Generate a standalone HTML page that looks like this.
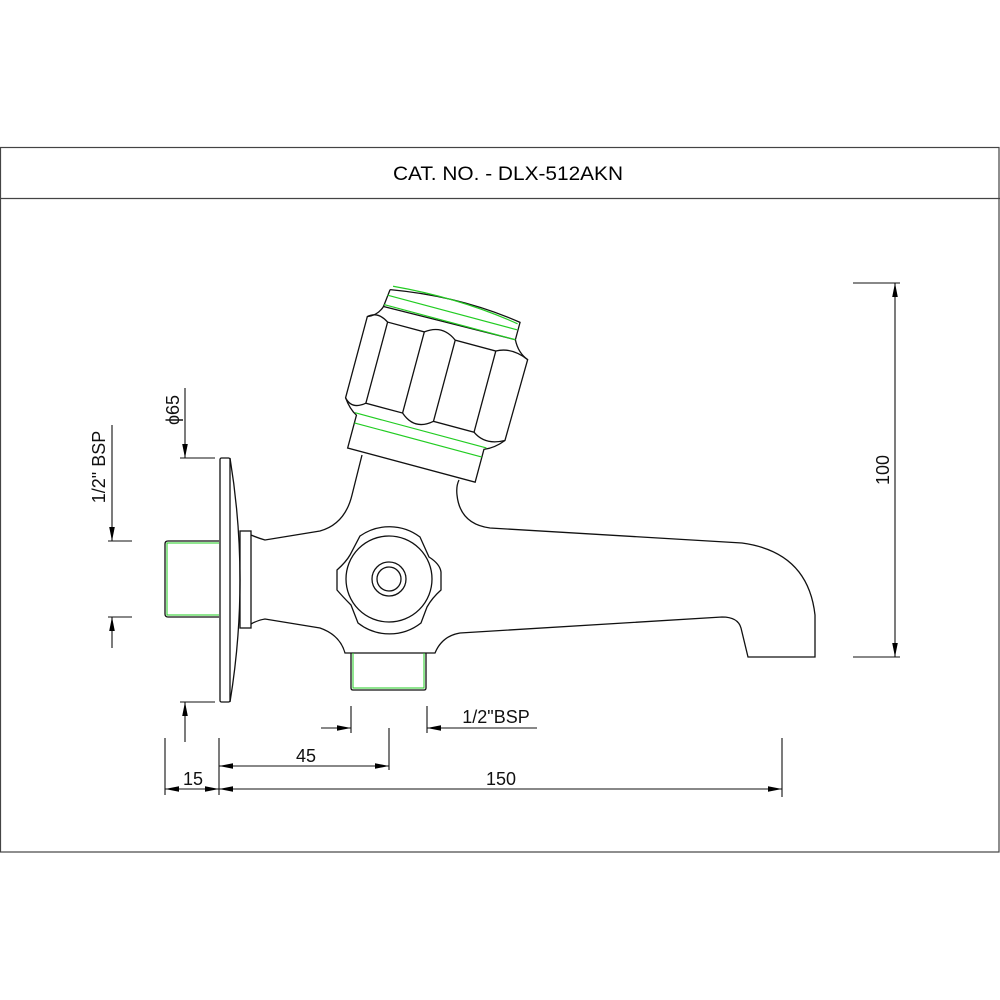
<!DOCTYPE html>
<html><head><meta charset="utf-8"><style>html,body{margin:0;padding:0;background:#fff}svg{display:block}</style></head>
<body>
<svg width="1000" height="1000" viewBox="0 0 1000 1000" xmlns="http://www.w3.org/2000/svg">
<defs>
<marker id="a" viewBox="0 0 10 4" refX="10" refY="2" markerWidth="14" markerHeight="6" markerUnits="userSpaceOnUse" orient="auto-start-reverse"><path d="M0,0 L10,2 L0,4 Z" fill="#000"/></marker>
</defs>
<rect x="0.5" y="147.5" width="998.5" height="704.5" fill="none" stroke="#444" stroke-width="1.2"/>
<line x1="0" y1="198.5" x2="1000" y2="198.5" stroke="#444" stroke-width="1.2"/>
<text x="508" y="180" font-family="Liberation Sans, sans-serif" font-size="19" text-anchor="middle" textLength="230" lengthAdjust="spacingAndGlyphs">CAT. NO. - DLX-512AKN</text>

<g fill="none" stroke="#111" stroke-width="1.3">
<!-- left stub -->
<path d="M219,541 L168,541 Q165,541 165,544 L165,614 Q165,617 168,617 L219,617" />
<path d="M219,543 L167,543 L167,615 L219,615" stroke="#2c2" stroke-width="1"/>
<!-- plate -->
<rect x="220" y="458" width="10" height="244" rx="1.5"/>
<path d="M230,458 Q250,580 230,702"/>
<!-- collar -->
<rect x="240" y="531" width="11" height="97"/>
<!-- body -->
<path d="M251,535 Q258,538 265,540 L320,531 Q345,524 352,495 L362,455"/>
<path d="M251,624 Q258,620 265,619 L320,628 Q340,635 345,653 L435,653 Q442,636 460,633 L722,617 Q738,617 741,628 L748,657 L815,657 L815,615 Q808,552 742,543 L490,528 Q460,524 457,495 Q456,486 459,480"/>
<!-- bottom port -->
<path d="M351,653 L351,688 Q351,690 353,690 L424,690 Q426,690 426,688 L426,653"/>
<path d="M353,653 L353,688 L424,688 L424,653" stroke="#2c2" stroke-width="1"/>
<!-- boss -->
<path d="M360,536 A51 51 0 0 1 420,537 L429,557 Q440,564 441,572 L441,590 Q432,598 427,607 L421,623 A51 51 0 0 1 358,623 L351,605 Q343,597 337,590 L337,570 Q346,562 350,555 Z"/>
<circle cx="389" cy="579" r="43"/>
<circle cx="389" cy="579" r="17"/>
<circle cx="389" cy="579" r="12"/>
<!-- handle -->
<g transform="translate(437,385) rotate(15)">
<path d="M-70,-80 Q0,-92 64,-82 L64,-64"/>
<path d="M-70,-80 L-72,-62"/>
<path d="M-72,-62 Q-75,-52 -85,-48 L-85,36 Q-78,46 -70,50 L-70,84 L62,84 L62,50 Q72,46 80,36 L81,-48 Q70,-52 64,-64 Z"/>
<path d="M-85,-48 Q-76,-56 -64,-48 L-26,-48 Q-10,-60 6,-48 L48,-48 Q62,-56 81,-48"/>
<path d="M-85,36 Q-76,46 -64,36 L-26,36 Q-10,50 6,36 L48,36 Q62,46 80,36"/>
<line x1="-64" y1="-48" x2="-64" y2="36"/>
<line x1="-26" y1="-48" x2="-26" y2="36"/>
<line x1="6" y1="-48" x2="6" y2="36"/>
<line x1="48" y1="-48" x2="48" y2="36"/>
<g stroke="#2c2" stroke-width="1.2">
<path d="M-68,-84 Q0,-90 62,-80"/>
<line x1="-71" y1="-74" x2="63" y2="-74"/>
<line x1="-72" y1="-64" x2="64" y2="-64"/>
<line x1="-72" y1="48" x2="64" y2="48"/>
<line x1="-70" y1="58" x2="62" y2="58"/>
</g>
</g>
</g>

<!-- dimensions -->
<g stroke="#111" stroke-width="1.1" fill="none">
<line x1="853" y1="283" x2="900" y2="283"/>
<line x1="853" y1="657" x2="900" y2="657"/>
<line x1="895" y1="283" x2="895" y2="657" marker-start="url(#a)" marker-end="url(#a)"/>
<line x1="180" y1="458" x2="215" y2="458"/>
<line x1="185" y1="388" x2="185" y2="458" marker-end="url(#a)"/>
<line x1="180" y1="702" x2="215" y2="702"/>
<line x1="185" y1="742" x2="185" y2="702" marker-end="url(#a)"/>
<line x1="108" y1="541" x2="132" y2="541"/>
<line x1="112" y1="425" x2="112" y2="541" marker-end="url(#a)"/>
<line x1="108" y1="617" x2="132" y2="617"/>
<line x1="112" y1="648" x2="112" y2="617" marker-end="url(#a)"/>
<line x1="351" y1="706" x2="351" y2="733"/>
<line x1="427" y1="706" x2="427" y2="733"/>
<line x1="321" y1="728" x2="351" y2="728" marker-end="url(#a)"/>
<line x1="537" y1="728" x2="427" y2="728" marker-end="url(#a)"/>
<line x1="165" y1="738" x2="165" y2="795"/>
<line x1="219" y1="738" x2="219" y2="795"/>
<line x1="389" y1="728" x2="389" y2="770"/>
<line x1="782" y1="738" x2="782" y2="797"/>
<line x1="219" y1="766" x2="389" y2="766" marker-start="url(#a)" marker-end="url(#a)"/>
<line x1="219" y1="789" x2="782" y2="789" marker-start="url(#a)" marker-end="url(#a)"/>
<line x1="165" y1="789" x2="219" y2="789" marker-start="url(#a)" marker-end="url(#a)"/>
</g>
<g font-family="Liberation Sans, sans-serif" font-size="18" fill="#111">
<text x="306" y="762" text-anchor="middle">45</text>
<text x="501" y="785" text-anchor="middle">150</text>
<text x="193" y="785" text-anchor="middle">15</text>
<text x="496" y="723" text-anchor="middle">1/2"BSP</text>
<text transform="translate(889,470) rotate(-90)" text-anchor="middle">100</text>
<text transform="translate(179,410) rotate(-90)" text-anchor="middle">ϕ65</text>
<text transform="translate(105,467) rotate(-90)" text-anchor="middle">1/2" BSP</text>
</g>
</svg>
</body></html>
